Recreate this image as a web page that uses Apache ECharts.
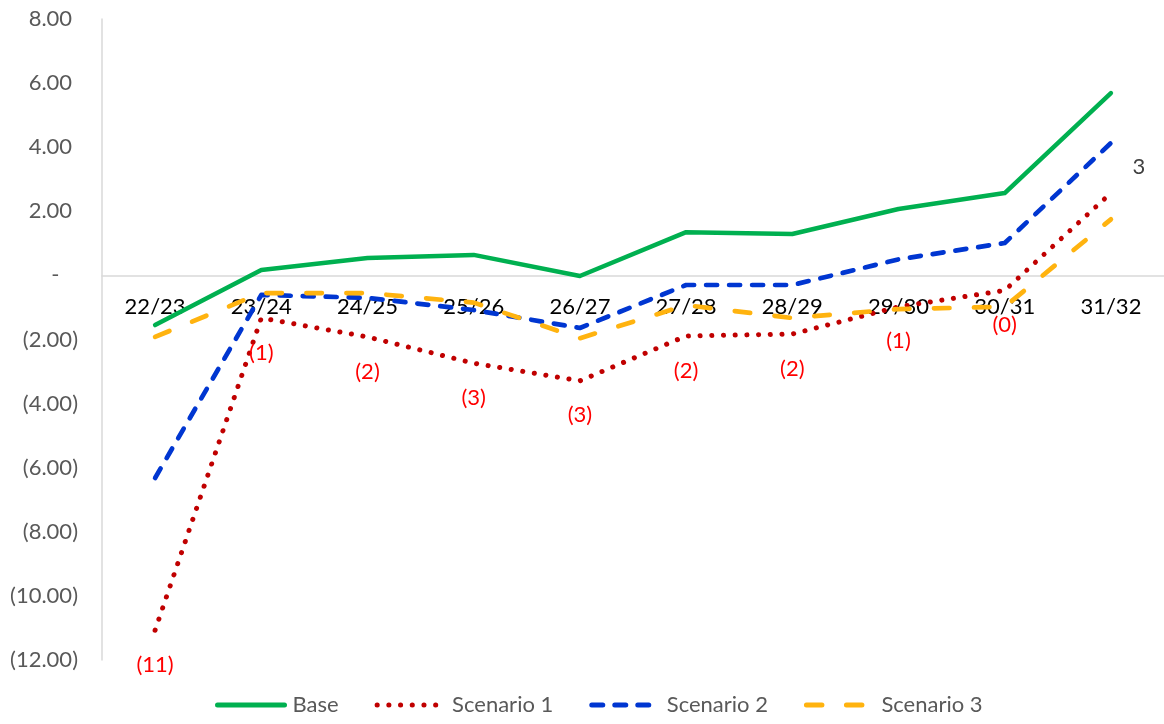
<!DOCTYPE html>
<html>
<head>
<meta charset="utf-8">
<style>
  html, body { margin: 0; padding: 0; background: #ffffff; }
  #chart { width: 1164px; height: 724px; }
</style>
<script src="https://cdn.jsdelivr.net/npm/echarts@6/dist/echarts.min.js"></script>
</head>
<body>
<div id="chart"></div>
<script>
// Financial years on the category axis
const years = ['22/23', '23/24', '24/25', '25/26', '26/27', '27/28', '28/29', '29/30', '30/31', '31/32'];

// Series values
const base      = [-1.55, 0.17, 0.54, 0.64, -0.02, 1.35, 1.29, 2.07, 2.57, 5.69];
const scenario1 = [-11.07, -1.33, -1.92, -2.74, -3.29, -1.89, -1.83, -0.98, -0.47, 2.57];
const scenario2 = [-6.32, -0.61, -0.70, -1.08, -1.64, -0.30, -0.30, 0.50, 1.01, 4.13];
const scenario3 = [-1.92, -0.55, -0.55, -0.85, -1.96, -0.93, -1.33, -1.05, -0.98, 1.75];

// Value axis range
const yMin = -12, yMax = 8, yStep = 2;

const FONT = 'Lato';
const GREY = '#595959';

function fmtAxis(v) {
  if (Math.abs(v) < 1e-9) return '{v|-}{p|0)}';
  if (v < 0) return '{v|(' + (-v).toFixed(2) + ')}';
  return '{v|' + v.toFixed(2) + '}{p|)}';
}

function fmtLabel(v) {
  const r = Math.round(Math.abs(v));
  return v < 0 ? '(' + r + ')' : String(r);
}

const s1Data = scenario1.map(function (v) {
  if (v >= 0) {
    return {
      value: v,
      label: { position: 'right', distance: 5, offset: [16, -26], color: '#404040' }
    };
  }
  return v;
});

const chart = echarts.init(document.getElementById('chart'), null, { renderer: 'canvas' });

chart.setOption({
  animation: false,
  backgroundColor: '#ffffff',
  textStyle: { fontFamily: FONT },
  grid: { left: 102, right: 0, top: 19, bottom: 64, containLabel: false },
  legend: {
    top: 694,
    left: 215,
    padding: 0,
    itemWidth: 67,
    itemHeight: 6,
    itemGap: 36,
    itemStyle: { opacity: 0 },
    lineStyle: { width: 5 },
    textStyle: { color: GREY, fontSize: 22, fontFamily: FONT, padding: [0, 0, 0, 3] },
    data: ['Base', 'Scenario 1', 'Scenario 2', 'Scenario 3']
  },
  xAxis: {
    type: 'category',
    data: years,
    boundaryGap: true,
    axisLine: { onZero: true, lineStyle: { color: '#d9d9d9', width: 1.5 } },
    axisTick: { show: false },
    // year labels sit just under the zero line
    axisLabel: { color: '#000000', fontSize: 22, fontFamily: FONT, margin: -364 },
    splitLine: { show: false }
  },
  yAxis: {
    type: 'value',
    min: yMin,
    max: yMax,
    interval: yStep,
    axisLine: { show: true, lineStyle: { color: '#d9d9d9', width: 1.5 } },
    axisTick: { show: false },
    splitLine: { show: false },
    axisLabel: {
      margin: 24,
      formatter: fmtAxis,
      rich: {
        v: { color: GREY, fontSize: 22, fontFamily: FONT },
        p: { color: 'rgba(0,0,0,0)', fontSize: 22, fontFamily: FONT }
      }
    }
  },
  series: [
    {
      name: 'Base',
      type: 'line',
      data: base,
      symbol: 'none',
      lineStyle: { color: '#00B050', width: 4.5, cap: 'round', join: 'round' },
      itemStyle: { color: '#00B050' }
    },
    {
      name: 'Scenario 1',
      type: 'line',
      data: s1Data,
      symbol: 'circle',
      symbolSize: 1,
      itemStyle: { color: 'rgba(0,0,0,0)' },
      lineStyle: { color: '#C00000', width: 5, type: [0.1, 11.6], cap: 'round', join: 'round' },
      label: {
        show: true,
        position: 'bottom',
        distance: 23,
        color: '#FF0000',
        fontSize: 22,
        fontFamily: FONT,
        formatter: function (p) { return fmtLabel(p.value); }
      }
    },
    {
      name: 'Scenario 2',
      type: 'line',
      data: scenario2,
      symbol: 'none',
      lineStyle: { color: '#0036D1', width: 4.7, type: [11, 12], cap: 'round', join: 'round' },
      itemStyle: { color: '#0036D1' }
    },
    {
      name: 'Scenario 3',
      type: 'line',
      data: scenario3,
      symbol: 'none',
      lineStyle: { color: '#FFB30F', width: 4.7, type: [15.5, 24.5], cap: 'round', join: 'round' },
      itemStyle: { color: '#FFB30F' }
    }
  ]
});
</script>
</body>
</html>
